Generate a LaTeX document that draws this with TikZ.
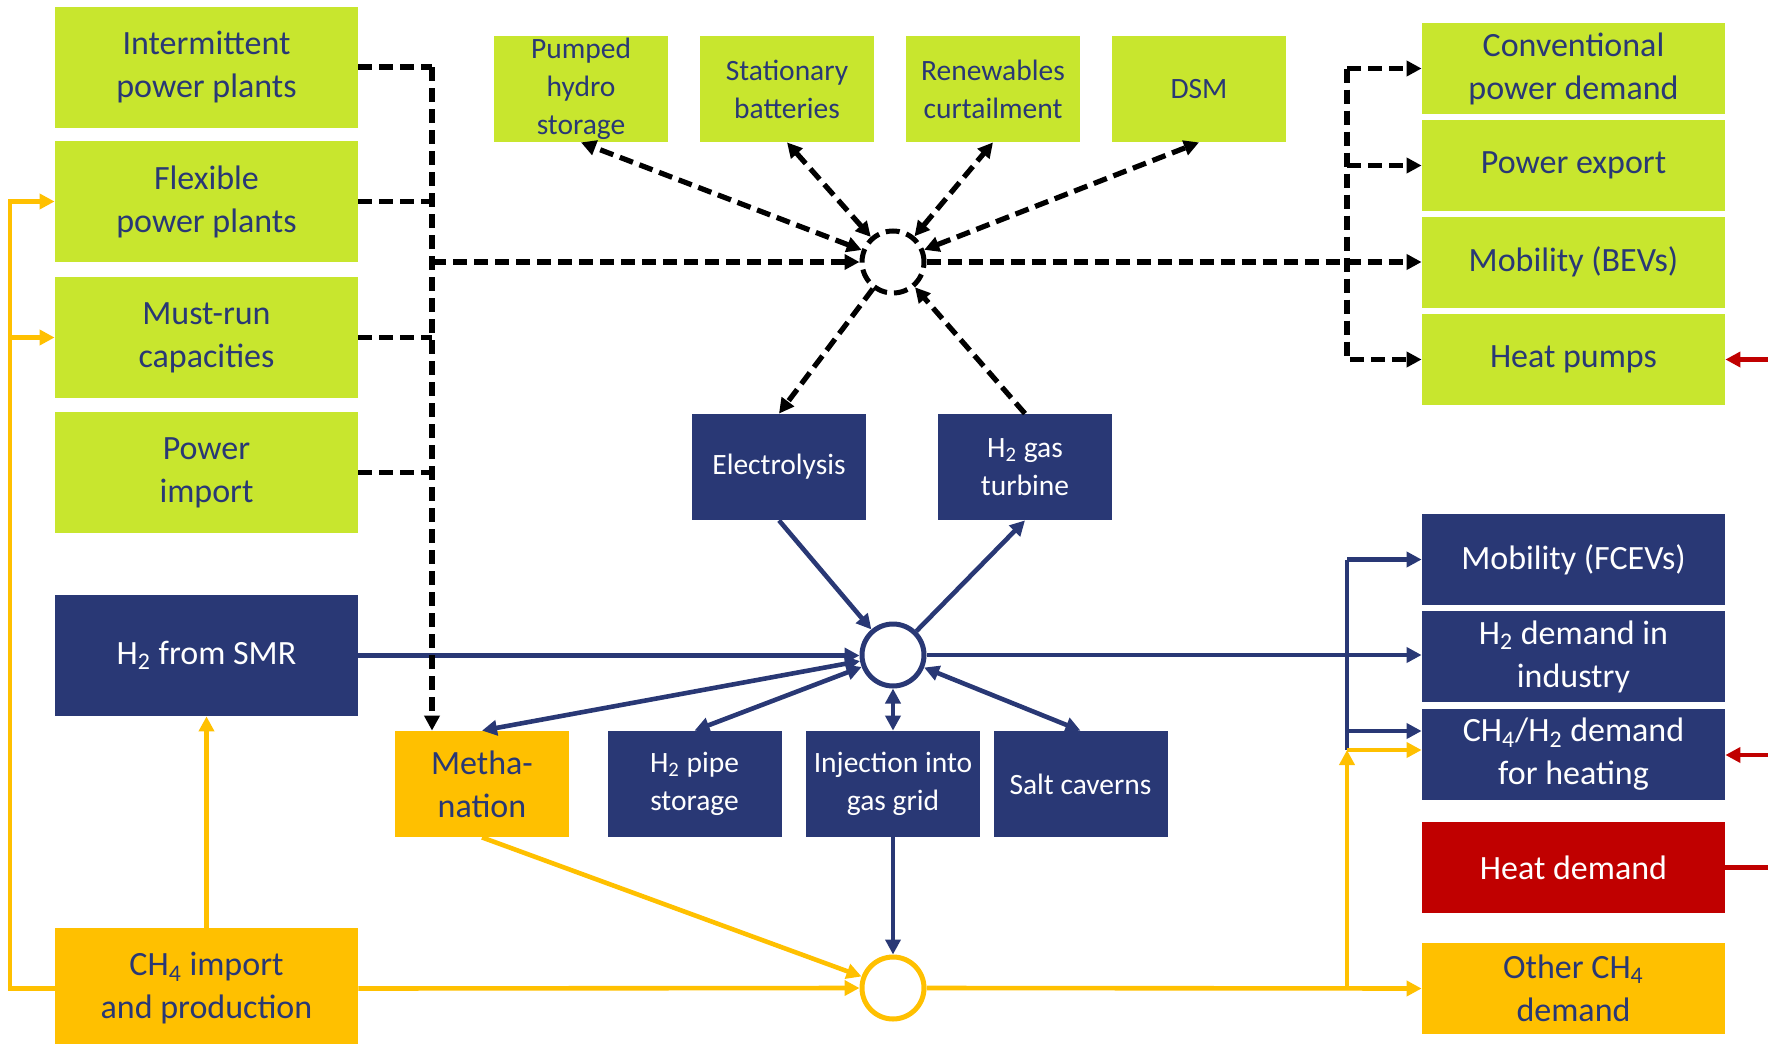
\documentclass[tikz,border=0pt]{standalone}
\usepackage{fontspec}
\setmainfont{Carlito}
\usepackage{tikz}
\usepackage{xcolor}
\usetikzlibrary{arrows.meta, positioning, calc}

\definecolor{fhgreen}{RGB}{200,230,46}
\definecolor{fhblue}{RGB}{41,56,117}
\definecolor{fhyellow}{RGB}{255,192,0}
\definecolor{fhred}{RGB}{192,0,0}
\newcommand{\bigfont}{\fontsize{17}{21.5}\selectfont}
\newcommand{\smallfont}{\fontsize{14.75}{19}\selectfont}

\begin{document}
\begin{tikzpicture}[x=0.5pt, y=-0.5pt,
    >={Triangle[length=7.5pt,width=7.5pt]},
    box/.style={inner sep=0pt, align=center},
    powerbox/.style={box, fill=fhgreen, text=fhblue},
    htwobox/.style={box, fill=fhblue, text=white},
    gasbox/.style={box, fill=fhyellow, text=fhblue},
    heatbox/.style={box, fill=fhred, text=white},
    outer/.style={minimum width=151.5pt, minimum height=60.5pt, font=\bigfont},
    inner/.style={minimum width=87pt, minimum height=53pt, font=\smallfont},
    demand/.style={minimum width=151.5pt, minimum height=45.5pt, font=\bigfont},
    hub/.style={circle, minimum size=31pt, inner sep=0pt, line width=2.5pt, fill=white},
    powerline/.style={black, line width=2.6pt, dash pattern=on 7pt off 3.5pt},
    htwoline/.style={fhblue, line width=2.3pt},
    gasline/.style={fhyellow, line width=2.3pt},
    heatline/.style={fhred, line width=2.3pt}]
\useasboundingbox (0,0) rectangle (1768,1044);
\clip (0,0) rectangle (1768,1044);

% supply side
\node[powerbox, outer] (interm) at (206.5,67) {Intermittent\\power plants};
\node[powerbox, outer] (flex) at (206.5,201.5) {Flexible\\power plants};
\node[powerbox, outer] (mustrun) at (206.5,337.5) {Must-run\\capacities};
\node[powerbox, outer] (pimport) at (206.5,472.5) {Power\\import};
\node[htwobox, outer] (smr) at (206.5,655.5) {H\textsubscript{2} from SMR};
\node[gasbox, outer] (ch4) at (206.5,988.5) {CH\textsubscript{4} import\\and production};

% flexibility options
\node[powerbox, inner] (phs) at (581,89) {Pumped\\hydro\\storage};
\node[powerbox, inner] (batt) at (787,89) {Stationary\\batteries};
\node[powerbox, inner] (curt) at (993,89) {Renewables\\curtailment};
\node[powerbox, inner] (dsm) at (1199,89) {DSM};

% hubs and conversion
\node[hub, draw=black, dash pattern=on 7pt off 3.5pt] (hubP) at (893,262) {};
\node[htwobox, inner] (elec) at (779,467) {Electrolysis};
\node[htwobox, inner] (turb) at (1025,467) {H\textsubscript{2} gas\\turbine};
\node[hub, draw=fhblue] (hubH) at (893,655) {};
\node[gasbox, inner, font=\bigfont] (meth) at (482,784) {Metha-\\nation};
\node[htwobox, inner] (pipe) at (694.5,784) {H\textsubscript{2} pipe\\storage};
\node[htwobox, inner] (inj) at (893,784) {Injection into\\gas grid};
\node[htwobox, inner] (salt) at (1080.5,784) {Salt caverns};
\node[hub, draw=fhyellow] (hubY) at (893,988) {};

% demand side
\node[powerbox, demand] (conv) at (1573.5,68.5) {Conventional\\power demand};
\node[powerbox, demand] (pexp) at (1573.5,165.5) {Power export};
\node[powerbox, demand] (bev) at (1573.5,262) {Mobility (BEVs)};
\node[powerbox, demand] (hp) at (1573.5,359.5) {Heat pumps};
\node[htwobox, demand] (fcev) at (1573.5,559.5) {Mobility (FCEVs)};
\node[htwobox, demand] (ind) at (1573.5,656.5) {H\textsubscript{2} demand in\\industry};
\node[htwobox, demand] (heat) at (1573.5,754.5) {CH\textsubscript{4}/H\textsubscript{2} demand\\for heating};
\node[heatbox, demand] (hd) at (1573.5,867.5) {Heat demand};
\node[gasbox, demand] (oth) at (1573.5,988.5) {Other CH\textsubscript{4}\\demand};

\coordinate (busL) at (432,67);
\coordinate (busR) at (1347,68.5);
\coordinate (busH) at (1347,559.5);
\coordinate (hbl) at (1347,731);
\coordinate (ybr) at (1347,750);
\coordinate (busY) at (10,988.5);
\coordinate (edgeA) at (1790,359.5);
\coordinate (edgeB) at (1790,755);
\coordinate (edgeC) at (1790,867.5);

% hydrogen
\draw[htwoline,->] (smr.east) -- (smr.east -| hubH.west);
\draw[htwoline,->] (elec.south) -- (hubH);
\draw[htwoline,->] (hubH) -- (turb.south);
\foreach \n in {meth, pipe, inj, salt}
    \draw[htwoline,<->] (hubH) -- (\n.north);
\draw[htwoline,->] (inj.south) -- (hubY.north);
\draw[htwoline,->] (hubH.east) -- (hubH.east -| ind.west);
\draw[htwoline,->] (busH) -- (fcev.west);
\draw[htwoline] (busH) -- (ybr);
\draw[htwoline,->] (hbl) -- (hbl -| heat.west);

% methane
\draw[gasline,->] (ch4.north) -- (smr.south);
\draw[gasline,->] (ch4.west) -- (busY) |- (flex.west);
\draw[gasline,->] (busY |- mustrun) -- (mustrun.west);
\draw[gasline,->] (ch4.east) -- (hubY.west);
\draw[gasline,->] (meth.south) -- (hubY);
\draw[gasline,->] (hubY.east) -- (oth.west);
\draw[gasline,->] (ybr |- hubY) -- (ybr);
\draw[gasline,->] (ybr) -- (ybr -| heat.west);

% heat
\draw[heatline,->] (edgeA) -- (hp.east);
\draw[heatline,->] (edgeB) -- (edgeB -| heat.east);
\draw[heatline] (hd.east) -- (edgeC);

% power
\draw[powerline] (interm.east) -- (busL);
\foreach \n in {flex, mustrun, pimport}
    \draw[powerline] (\n.east) -- (\n.east -| busL);
\draw[powerline,->] (busL) -- (busL |- meth.north);
\draw[powerline,->] (busL |- hubP) -- (hubP);
\foreach \n in {phs, batt, curt, dsm}
    \draw[powerline,<->] (hubP) -- (\n.south);
\draw[powerline,->] (hubP) -- (elec.north);
\draw[powerline,->] (turb.north) -- (hubP);
\draw[powerline,->] (hubP) -- (bev.west);
\draw[powerline,->] (busR) -- (conv.west);
\draw[powerline,->] (busR |- pexp) -- (pexp.west);
\draw[powerline,->] (busR) |- (hp.west);
\end{tikzpicture}
\end{document}
